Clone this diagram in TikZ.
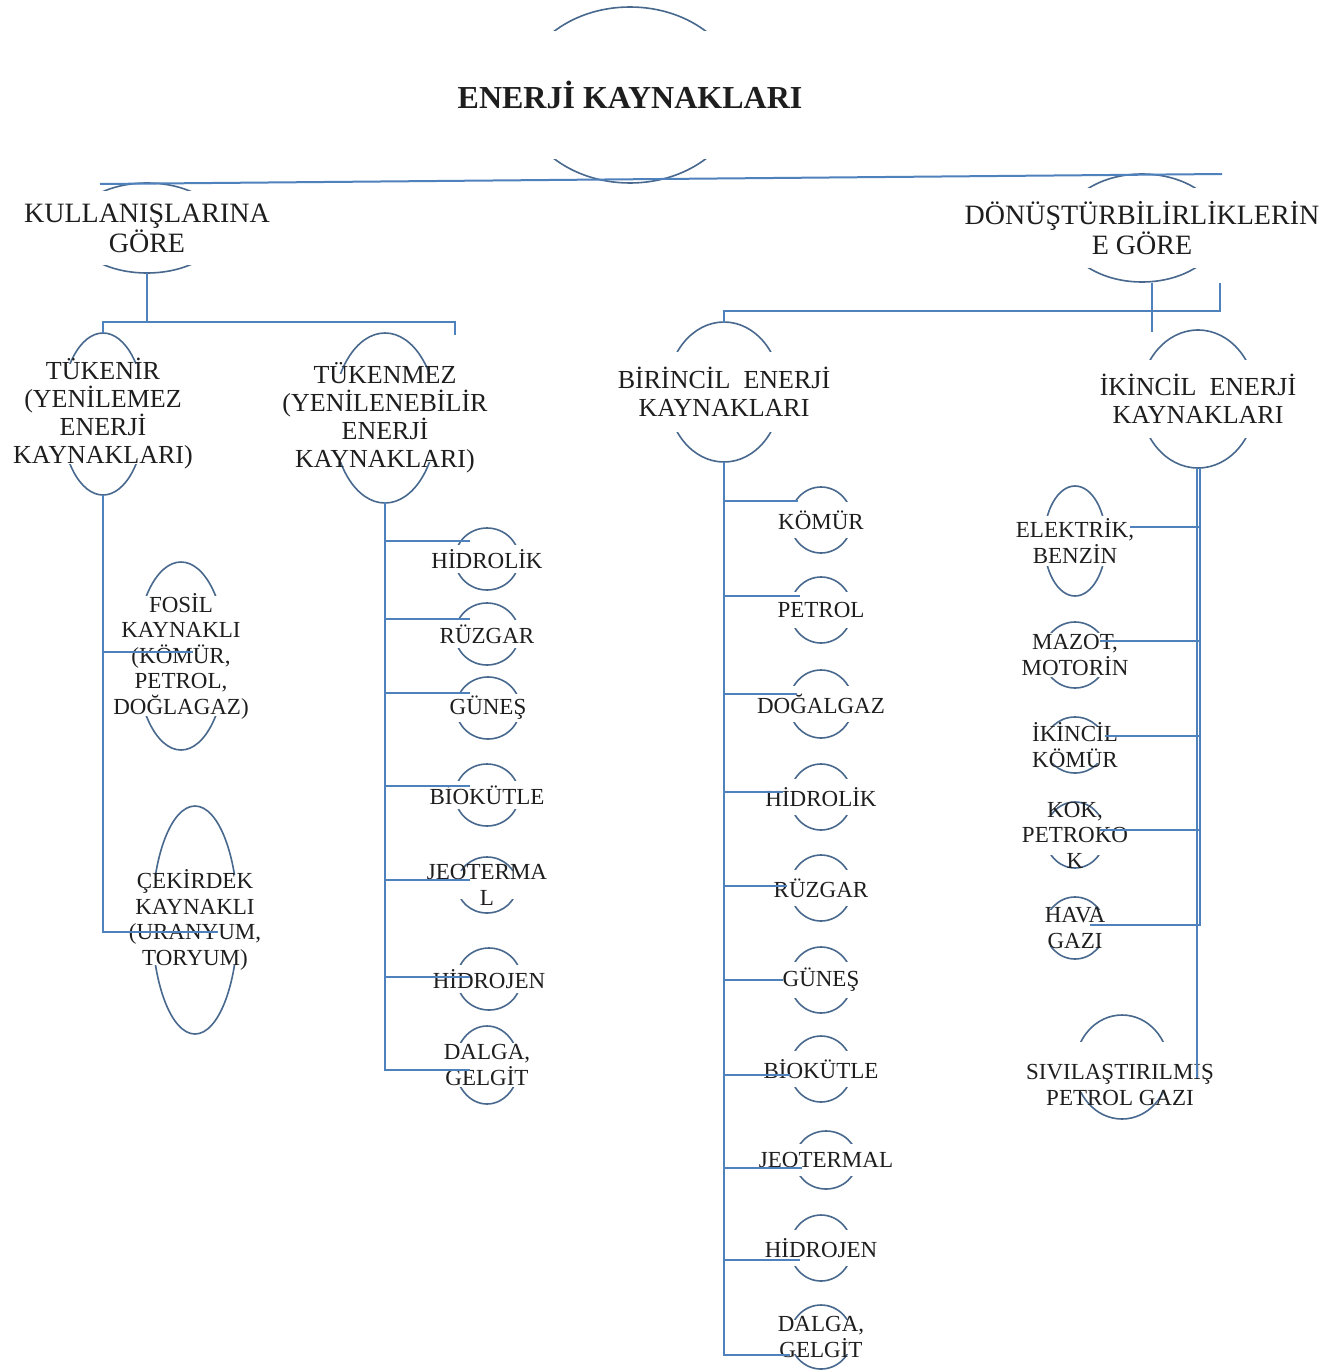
\documentclass[tikz,border=0pt]{standalone}
\usepackage{fontspec}
\setmainfont{Liberation Serif}
\pgfdeclarelayer{bg}\pgfdeclarelayer{band}
\pgfsetlayers{bg,band,main}
\definecolor{connc}{RGB}{79,129,189}
\definecolor{ellc}{RGB}{72,104,142}
\definecolor{txtc}{RGB}{30,30,30}
\tikzset{
 conn/.style={draw=connc, line width=2pt},
 ell/.style={draw=ellc, line width=1.6pt},
 lbl/.style={align=center, inner sep=0pt, text=txtc},
 title/.style={lbl, font=\bfseries\fontsize{32}{34}\selectfont},
 big/.style={lbl, font=\fontsize{28}{30}\selectfont},
 mid/.style={lbl, font=\fontsize{26}{28}\selectfont},
 small/.style={lbl, font=\fontsize{23}{25.5}\selectfont}
}
% name, x, y, rx, ry, band half height, band half width, style, text
\newcommand\mynode[9]{%
 \begin{pgfonlayer}{bg}\draw[ell] (#2,#3) ellipse [x radius=#4pt, y radius=#5pt];\end{pgfonlayer}
 \begin{pgfonlayer}{band}\fill[white] ({#2-#7},{#3-#6}) rectangle ({#2+#7},{#3+#6});\end{pgfonlayer}
 \node[#8] (#1) at (#2,#3) {#9};}
\begin{document}
\begin{tikzpicture}[x=1pt,y=-1pt]
\begin{pgfonlayer}{bg}
\fill[white] (0,0) rectangle (1342,1370);
\end{pgfonlayer}
\useasboundingbox (0,0) rectangle (1342,1370);
% top levels
\mynode{title}{630}{95}{110}{88}{64}{180}{title}{ENERJİ KAYNAKLARI}
\mynode{kull}{147}{228}{75}{45}{37}{140}{big}{KULLANIŞLARINA\\GÖRE}
\mynode{donus}{1142}{228}{79}{54}{40}{190}{big}{DÖNÜŞTÜRBİLİRLİKLERİN\\E GÖRE}
\mynode{tukenir}{103}{414}{42}{81}{50}{95}{mid}{TÜKENİR\\(YENİLEMEZ\\ENERJİ\\KAYNAKLARI)}
\mynode{tukenmez}{385}{418}{52}{85}{44}{110}{mid}{TÜKENMEZ\\(YENİLENEBİLİR\\ENERJİ\\KAYNAKLARI)}
\mynode{birincil}{724}{392}{57}{70}{40}{120}{mid}{BİRİNCİL\hspace{0.5em}ENERJİ\\KAYNAKLARI}
\mynode{ikincil}{1198}{399}{58}{69}{39}{110}{mid}{İKİNCİL\hspace{0.5em}ENERJİ\\KAYNAKLARI}
% non-renewable
\mynode{fosil}{181}{656}{45}{94}{60}{90}{small}{FOSİL\\KAYNAKLI\\(KÖMÜR,\\PETROL,\\DOĞLAGAZ)}
\mynode{cekirdek}{195}{920}{43}{114}{45}{90}{small}{ÇEKİRDEK\\KAYNAKLI\\(URANYUM,\\TORYUM)}
% renewable
\mynode{r1}{487}{559}{32}{31}{14}{75}{small}{HİDROLİK}
\mynode{r2}{487}{634}{32}{31}{14}{75}{small}{RÜZGAR}
\mynode{r3}{488}{708}{32}{31}{14}{75}{small}{GÜNEŞ}
\mynode{r4}{487}{795}{32}{31}{14}{75}{small}{BİOKÜTLE}
\mynode{r5}{487}{885}{30}{28}{14}{75}{small}{JEOTERMA\\L}
\mynode{r6}{489}{979}{32}{31}{14}{75}{small}{HİDROJEN}
\mynode{r7}{487}{1065}{32}{39}{22}{75}{small}{DALGA,\\GELGİT}
% primary
\mynode{p1}{821}{520}{31}{33}{18}{80}{small}{KÖMÜR}
\mynode{p2}{821}{610}{31}{33}{18}{80}{small}{PETROL}
\mynode{p3}{821}{704}{32}{34}{18}{80}{small}{DOĞALGAZ}
\mynode{p4}{821}{797}{31}{33}{18}{80}{small}{HİDROLİK}
\mynode{p5}{821}{888}{31}{33}{18}{80}{small}{RÜZGAR}
\mynode{p6}{821}{980}{31}{33}{18}{80}{small}{GÜNEŞ}
\mynode{p7}{821}{1069}{31}{33}{18}{80}{small}{BİOKÜTLE}
\mynode{p8}{826}{1160}{31}{29}{16}{80}{small}{JEOTERMAL}
\mynode{p9}{821}{1248}{31}{33}{18}{80}{small}{HİDROJEN}
\mynode{p10}{821}{1337}{31}{32}{17}{80}{small}{DALGA,\\GELGİT}
% secondary
\mynode{s1}{1075}{541}{31}{55}{25}{65}{small}{ELEKTRİK,\\BENZİN}
\mynode{s2}{1075}{655}{32}{33}{22}{65}{small}{MAZOT,\\MOTORİN}
\mynode{s3}{1075}{745}{30}{28}{18}{65}{small}{İKİNCİL\\KÖMÜR}
\mynode{s4}{1075}{835}{30}{33}{20}{65}{small}{KOK,\\PETROKO\\K}
\mynode{s5}{1075}{928}{30}{31}{18}{65}{small}{HAVA\\GAZI}
\mynode{s6}{1122}{1067}{47}{52}{25}{110}{{small, xshift=-2pt, yshift=-18pt}}{SIVILAŞTIRILMIŞ\\PETROL GAZI}
% connectors
\coordinate (hL) at (100,184); \coordinate (hR) at (1222,174);
\draw[conn] (hL) -- (hR);
\draw[conn] (147,273) -- (147,322);
\draw[conn] (103,333) -- (103,322) -- (455,322) -- (455,335);
\draw[conn] (103,495) -- (103,932) -- (218,932);
\draw[conn] (103,652) -- (193,652);
\draw[conn] (385,502) -- (385,1070) -- (470,1070);
\foreach \yy in {541,619,693,786,880,977} \draw[conn] (385,\yy) -- (470,\yy);
\draw[conn] (1152,283) -- (1152,332);
\draw[conn] (724,323) -- (724,311) -- (1220,311) -- (1220,283);
\draw[conn] (724,462) -- (724,1355) -- (790,1355);
\foreach \yy/\xx in {501/798,596/800,694/797,792/783,886/787,980/783,1075/790,1168/802,1260/800} \draw[conn] (724,\yy) -- (\xx,\yy);
\draw[conn] (1197,468) -- (1197,1078);
\draw[conn] (1200,468) -- (1200,925) -- (1090,925);
\foreach \yy/\xx in {527/1130,641/1100,736/1105,830/1100} \draw[conn] (1200,\yy) -- (\xx,\yy);
\end{tikzpicture}
\end{document}
